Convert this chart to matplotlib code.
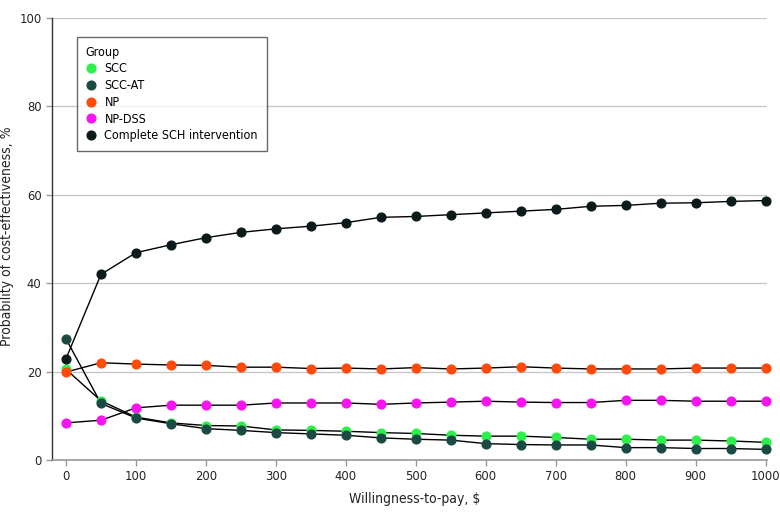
import matplotlib
matplotlib.use("Agg")
import matplotlib.pyplot as plt
from matplotlib.lines import Line2D
from matplotlib import font_manager as fm

# Prefer a condensed sans if one is installed (the reference uses a narrow face)
cond = None
for f in fm.fontManager.ttflist:
    nm = f.name
    if f.style == "normal" and f.weight in (400, "normal", "regular") and \
            (f.stretch in ("condensed", "semi-condensed") or "Narrow" in nm or "Condensed" in nm):
        cond = f
        if "Sans" in nm:
            break
if cond is not None:
    plt.rcParams['font.family'] = [cond.name, 'Roboto', 'DejaVu Sans']
    plt.rcParams['font.stretch'] = cond.stretch
    fs_lab, fs_tick, fs_leg = 10, 9.3, 9.0
else:
    plt.rcParams['font.family'] = ['Roboto', 'DejaVu Sans']
    fs_lab, fs_tick, fs_leg = 9, 8.5, 8.5

wtp = [0, 50, 100, 150, 200, 250, 300, 350, 400, 450, 500,
       550, 600, 650, 700, 750, 800, 850, 900, 950, 1000]

scc = [20.5, 13.4, 9.7, 8.4, 7.8, 7.7, 6.8, 6.7, 6.5, 6.2, 6.0,
       5.6, 5.4, 5.4, 5.1, 4.7, 4.7, 4.5, 4.5, 4.3, 4.0]
scc_at = [27.4, 12.8, 9.5, 8.2, 7.1, 6.7, 6.2, 5.9, 5.6, 5.0, 4.7,
          4.5, 3.7, 3.5, 3.4, 3.4, 2.8, 2.8, 2.6, 2.6, 2.4]
np_ = [19.9, 22.0, 21.7, 21.5, 21.4, 21.0, 21.0, 20.7, 20.8, 20.6, 20.9,
       20.6, 20.8, 21.1, 20.8, 20.6, 20.6, 20.6, 20.8, 20.8, 20.8]
np_dss = [8.4, 9.0, 11.8, 12.4, 12.4, 12.4, 12.9, 12.9, 12.9, 12.6, 12.9,
          13.1, 13.3, 13.1, 13.0, 13.0, 13.5, 13.5, 13.3, 13.3, 13.3]
sch = [22.9, 42.0, 46.9, 48.7, 50.3, 51.5, 52.3, 52.9, 53.7, 54.9, 55.1,
       55.5, 55.9, 56.3, 56.7, 57.4, 57.6, 58.1, 58.2, 58.5, 58.7]

labels = ["SCC", "SCC-AT", "NP", "NP-DSS", "Complete SCH intervention"]
series = [scc, scc_at, np_, np_dss, sch]
colors = ["#2EF04A", "#1B4A45", "#FF4A0A", "#F714F0", "#0B1A1A"]

xticks = [0, 100, 200, 300, 400, 500, 600, 700, 800, 900, 1000]
yticks = [0, 20, 40, 60, 80, 100]

fig = plt.figure(figsize=(7.8, 5.15), dpi=100)
ax = fig.add_axes([52/780, 1-460/515, (767-52)/780, (460-18)/515])

for s in series:
    ax.plot(wtp, s, color="black", lw=1.0, zorder=3, clip_on=False)
for s, c in zip(series, colors):
    ax.plot(wtp, s, ls="none", marker="o", ms=6.3, mfc=c, mec=c,
            zorder=4, clip_on=False)

ax.set_xlim(-20, 1002)
ax.set_ylim(0, 100)
ax.set_xticks(xticks)
ax.set_yticks(yticks)
ax.yaxis.grid(True, color="#C8C8C8", lw=1.0)
ax.set_axisbelow(True)
for sp in ["top", "right"]:
    ax.spines[sp].set_visible(False)
ax.spines["left"].set_color("#333333")
ax.spines["bottom"].set_color("#999999")
ax.spines["left"].set_linewidth(1.0)
ax.spines["bottom"].set_linewidth(1.2)
ax.tick_params(axis="both", labelsize=fs_tick, colors="#999999", labelcolor="#222222",
               length=4, width=1)
ax.set_xlabel("Willingness-to-pay, $", fontsize=fs_lab, color="#222222")
ax.set_ylabel("Probability of cost-effectiveness, %", fontsize=fs_lab, color="#222222")
ax.xaxis.set_label_coords((415-52)/715, -(492-460)/442)
ax.xaxis.label.set_va("top")
ax.yaxis.set_label_coords(-(52-14)/715, (460-236)/442)

handles = [Line2D([], [], ls="none", marker="o", ms=6.3, mfc=c, mec=c) for c in colors]
leg = ax.legend(handles, labels, title="Group", loc="upper left",
                bbox_to_anchor=(77/780, 1-37/515), bbox_transform=fig.transFigure,
                borderaxespad=0,
                fontsize=fs_leg, title_fontsize=fs_leg, frameon=True, fancybox=False,
                edgecolor="#444444", handletextpad=0.7, labelspacing=0.3,
                borderpad=0.7, handlelength=0.8)
leg._legend_box.align = "left"
leg.get_frame().set_linewidth(1.0)

fig.savefig("out.png", dpi=100)
